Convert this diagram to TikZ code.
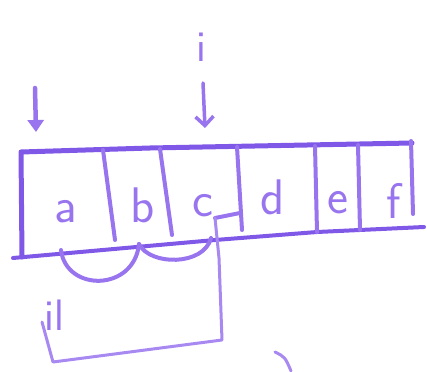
\documentclass[tikz,border=0pt]{standalone}
\usetikzlibrary{arrows.meta}
\definecolor{pen}{RGB}{152,116,238}
\definecolor{pendark}{RGB}{128,88,232}
\begin{document}
\begin{tikzpicture}[x=1pt,y=-1pt,line cap=round,line join=round,
  stroke/.style={draw=pen,line width=4pt},
  thin stroke/.style={draw=pen!85,line width=3pt},
  letter/.style={text=pen,font=\fontsize{50}{50}\selectfont\sffamily,inner sep=0pt,anchor=base},
  smallletter/.style={text=pen,font=\fontsize{44}{44}\selectfont\sffamily,inner sep=0pt,anchor=base}]
\useasboundingbox (0,0) rectangle (427,371);
% array outline
\draw[stroke,draw=pendark,line width=5pt] (22,257) -- (21,152) -- (150,148) -- (412,143);
\draw[stroke,draw=pendark] (13,258) -- (215,240) -- (317,232) -- (424,227);
% dividers
\draw[stroke] (103,150) -- (115,240);
\draw[stroke] (160,149) -- (172,235);
\draw[stroke] (237,147) -- (242,230);
\draw[stroke] (315,146) -- (317,232);
\draw[stroke] (358,145) -- (360,230);
\draw[stroke] (411,141) -- (413,214);
% letters
\node[letter] (a) at (66,222) {a};
\node[letter] (b) at (143,222) {b};
\node[letter] (c) at (203,216) {c};
\node[letter] (d) at (273,214) {d};
\node[letter] (e) at (338,213) {e};
\node[letter] (f) at (394,218) {f};
% pointers
\coordinate (pa) at (35,88);
\coordinate (pae) at (36,132);
\draw[stroke,line width=4.5pt,-{Triangle[length=12pt,width=16pt]}] (pa) -- (pae);
\node[smallletter] (i) at (201,62) {i};
\coordinate (pc) at (203,83);
\coordinate (pce) at (205,128);
\draw[stroke,line width=3.5pt,-{Straight Barb[length=9pt,width=18pt]}] (pc) -- (pce);
% arcs under the array
\coordinate (s1) at (61,250);
\coordinate (s2) at (139,244);
\coordinate (s3) at (211,238);
\draw[stroke] (s1) .. controls (66,292) and (134,292) .. (s2);
\draw[stroke] (s2) .. controls (150,266) and (204,266) .. (s3);
% connector from c to il
\coordinate (ct) at (240,213);
\coordinate (cv) at (215,218);
\coordinate (cb) at (222,340);
\coordinate (cl) at (53,362);
\coordinate (ce) at (42,322);
\draw[stroke] (cv) -- (ct);
\draw[thin stroke] (cv) -- (219,258) -- (cb) -- (cl) -- (ce);
\node[smallletter] (il) at (54,330) {il};
% stray stroke
\coordinate (x1) at (275,352);
\coordinate (x2) at (291,371);
\draw[thin stroke] (x1) .. controls (285,357) .. (x2);
\end{tikzpicture}
\end{document}
